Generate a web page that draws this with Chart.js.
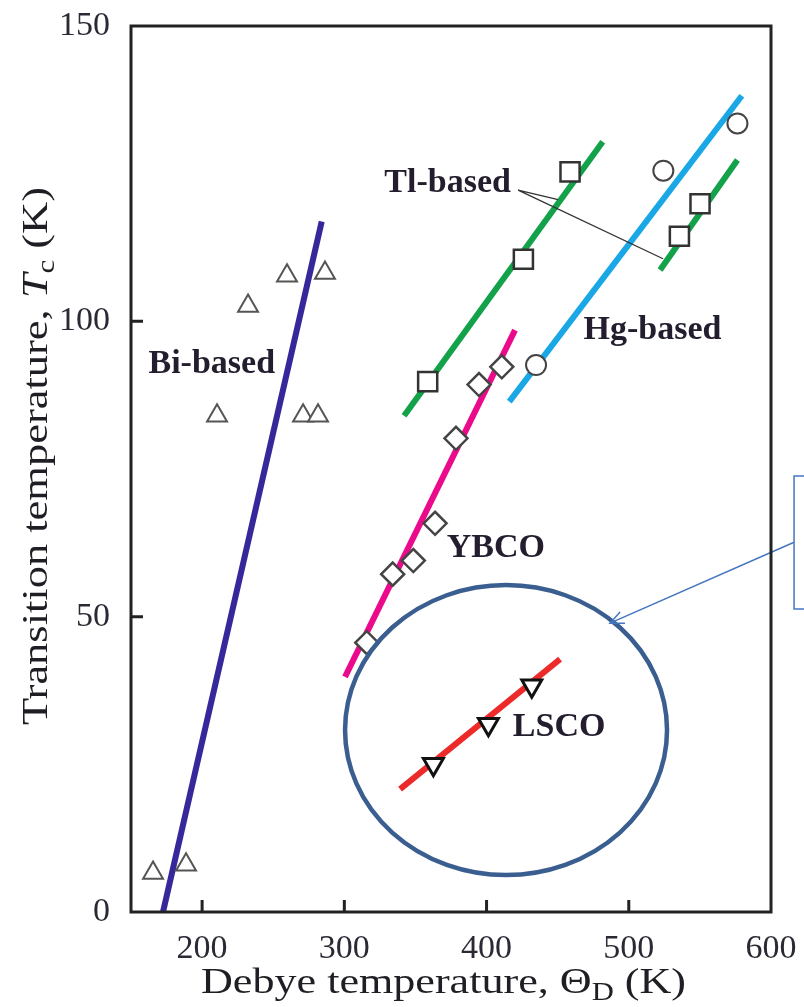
<!DOCTYPE html>
<html>
<head>
<meta charset="utf-8">
<script src="https://cdn.jsdelivr.net/npm/chart.js@4/dist/chart.umd.min.js"></script>
<style>
  html, body { margin: 0; padding: 0; background: #fff; }
  canvas { display: block; }
</style>
</head>
<body>
<canvas id="c" width="804" height="1007"></canvas>
<script>
// Axis ticks
const xTickLabels = [200, 300, 400, 500, 600];
const yTickLabels = [0, 50, 100, 150];
const xTickMarks = [200, 300, 400, 500];
const yTickMarks = [50, 100];

// Debye temperature (K) and Tc (K) per family
const biTheta = [165.5, 188.7, 210.5, 232.3, 259.7, 271.0, 281.5, 286.4];
const biTc    = [6.6, 8.0, 84.0, 102.6, 107.7, 84.0, 84.0, 108.2];

const tlTheta = [358.6, 425.9, 458.7, 535.6, 550.1];
const tlTc    = [89.8, 110.5, 125.3, 114.4, 119.9];

const hgTheta = [434.8, 524.3, 576.4];
const hgTc    = [92.6, 125.5, 133.5];

const ybcoTheta = [315.8, 334.0, 348.5, 363.8, 378.5, 394.7, 410.7];
const ybcoTc    = [45.6, 57.2, 59.5, 65.8, 80.2, 89.3, 92.3];

const lscoTheta = [362.6, 401.3, 431.8];
const lscoTc    = [25.0, 31.8, 38.3];

// Trend lines (end points)
const biFitTheta   = [172.5, 284.1];  const biFitTc   = [0, 116.9];
const tlFitTheta   = [342.0, 481.7];  const tlFitTc   = [84.0, 130.4];
const tl2FitTheta  = [522.0, 576.4];  const tl2FitTc  = [108.7, 127.3];
const hgFitTheta   = [416.0, 579.5];  const hgFitTc   = [86.4, 138.2];
const ybcoFitTheta = [300.5, 420.0];  const ybcoFitTc = [39.8, 98.5];
const lscoFitTheta = [339.2, 451.7];  const lscoFitTc = [20.8, 42.8];

// Family labels
const labelTexts = ['Bi-based', 'Tl-based', 'Hg-based', 'YBCO', 'LSCO'];
const labelTheta = [206.8, 372.6, 516.7, 406.5, 451.0];
const labelTc    = [93.2, 123.9, 98.9, 62.0, 31.8];

const SERIF = '"Liberation Serif", "Times New Roman", serif';
const pts = (xs, ys) => xs.map((x, i) => ({ x: x, y: ys[i] }));

function fitLine(xs, ys, color) {
  return {
    type: 'line', data: pts(xs, ys), borderColor: color, borderWidth: 6,
    borderCapStyle: 'butt', pointRadius: 0, fill: false, order: 2
  };
}
function markers(xs, ys, style, r, stroke, lw, rot) {
  return {
    type: 'scatter', data: pts(xs, ys), pointStyle: style, pointRadius: r,
    pointRotation: rot || 0, pointBackgroundColor: '#ffffff',
    pointBorderColor: stroke, pointBorderWidth: lw, showLine: false, order: 1
  };
}

// Draws a run of text pieces (with optional sub/italic) stretched to a width
function drawRich(ctx, parts, stretch) {
  let x = 0;
  parts.forEach(p => {
    ctx.font = p.font;
    ctx.fillText(p.t, x, p.dy || 0);
    x += ctx.measureText(p.t).width;
  });
}
function richWidth(ctx, parts) {
  let w = 0;
  parts.forEach(p => { ctx.font = p.font; w += ctx.measureText(p.t).width; });
  return w;
}

const decor = {
  id: 'decor',
  afterDraw(chart) {
    const ctx = chart.ctx;
    const a = chart.chartArea;
    const xs = chart.scales.x, ys = chart.scales.y;
    const X = v => xs.getPixelForValue(v), Y = v => ys.getPixelForValue(v);
    ctx.save();

    // Ellipse around LSCO
    const cx = X(413.7), cy = Y(30.8);
    const rx = Math.abs(X(413.7 + 113.2) - cx), ry = Math.abs(Y(30.8 + 24.55) - cy);
    ctx.beginPath();
    ctx.ellipse(cx, cy, rx, ry, 0, 0, Math.PI * 2);
    ctx.strokeStyle = '#3a5e8f';
    ctx.lineWidth = 4.5;
    ctx.stroke();

    // Call-out box and arrow
    const hx = X(486.8), hy = Y(48.9), tx = X(616.2), ty = Y(62.6);
    ctx.strokeStyle = '#4576c0';
    ctx.lineWidth = 1.5;
    ctx.beginPath();
    ctx.moveTo(tx, ty); ctx.lineTo(hx, hy); ctx.stroke();
    const ang = Math.atan2(hy - ty, hx - tx);
    ctx.beginPath();
    ctx.moveTo(hx - 15 * Math.cos(ang - 0.42), hy - 15 * Math.sin(ang - 0.42));
    ctx.lineTo(hx, hy);
    ctx.lineTo(hx - 15 * Math.cos(ang + 0.42), hy - 15 * Math.sin(ang + 0.42));
    ctx.stroke();
    ctx.beginPath();
    ctx.rect(tx, Y(73.8), 60, Y(51.3) - Y(73.8));
    ctx.stroke();

    // Leader lines for Tl-based
    ctx.strokeStyle = '#333';
    ctx.lineWidth = 1.3;
    ctx.beginPath();
    ctx.moveTo(X(422.2), Y(122.2)); ctx.lineTo(X(450.3), Y(120.6));
    ctx.moveTo(X(422.2), Y(122.2)); ctx.lineTo(X(524.1), Y(110.6));
    ctx.stroke();

    // Family labels
    ctx.fillStyle = '#231d2e';
    ctx.font = 'bold 34px ' + SERIF;
    ctx.textAlign = 'center';
    ctx.textBaseline = 'alphabetic';
    labelTexts.forEach((t, i) => ctx.fillText(t, X(labelTheta[i]), Y(labelTc[i]) + 11.5));

    // Frame
    ctx.strokeStyle = '#222';
    ctx.lineWidth = 3;
    ctx.strokeRect(a.left, a.top, a.right - a.left, a.bottom - a.top);

    // Inward ticks
    ctx.beginPath();
    xTickMarks.forEach(v => { ctx.moveTo(X(v), a.bottom); ctx.lineTo(X(v), a.bottom - 12); });
    yTickMarks.forEach(v => { ctx.moveTo(a.left, Y(v)); ctx.lineTo(a.left + 12, Y(v)); });
    ctx.stroke();

    // Axis titles
    ctx.fillStyle = '#1e1e24';
    ctx.textAlign = 'left';
    ctx.textBaseline = 'alphabetic';
    const big = '36px ' + SERIF, small = '25px ' + SERIF, ital = 'italic 36px ' + SERIF;
    const xt = [
      { t: 'Debye temperature, \u0398', font: big },
      { t: 'D', font: small, dy: 7 },
      { t: ' (K)', font: big }
    ];
    const xw = richWidth(ctx, xt);
    ctx.save();
    ctx.translate(201, 993);
    ctx.scale(485 / xw, 1);
    drawRich(ctx, xt);
    ctx.restore();

    const yt = [
      { t: 'Transition temperature, ', font: big },
      { t: 'T', font: ital },
      { t: 'c', font: small, dy: 7 },
      { t: ' (K)', font: big }
    ];
    const yw = richWidth(ctx, yt);
    ctx.save();
    ctx.translate(47, 725);
    ctx.rotate(-Math.PI / 2);
    ctx.scale(538 / yw, 1);
    drawRich(ctx, yt);
    ctx.restore();

    ctx.restore();
  }
};

new Chart(document.getElementById('c'), {
  data: {
    datasets: [
      fitLine(biFitTheta, biFitTc, '#36289b'),
      fitLine(tlFitTheta, tlFitTc, '#13a14a'),
      fitLine(tl2FitTheta, tl2FitTc, '#13a14a'),
      fitLine(hgFitTheta, hgFitTc, '#1aa7e6'),
      fitLine(ybcoFitTheta, ybcoFitTc, '#ec0a8c'),
      fitLine(lscoFitTheta, lscoFitTc, '#ec2a2a'),
      markers(biTheta, biTc, 'triangle', 11.5, '#555', 2),
      markers(tlTheta, tlTc, 'rect', 13.5, '#333', 2.5),
      markers(hgTheta, hgTc, 'circle', 10, '#444', 2),
      markers(ybcoTheta, ybcoTc, 'rectRot', 11.5, '#444', 2.5),
      markers(lscoTheta, lscoTc, 'triangle', 11.5, '#111', 3, 180)
    ]
  },
  options: {
    responsive: false,
    animation: false,
    layout: { padding: { top: 26, right: 33, left: 0, bottom: 0 } },
    plugins: { legend: { display: false }, tooltip: { enabled: false } },
    scales: {
      x: {
        type: 'linear', min: 150, max: 600,
        afterBuildTicks: s => { s.ticks = xTickLabels.map(v => ({ value: v })); },
        afterFit: s => { s.height = 95; s.paddingLeft = 0; s.paddingRight = 0; },
        grid: { display: false }, border: { display: false },
        ticks: { font: { family: SERIF, size: 34 }, color: '#2a2a35', padding: 9, maxRotation: 0, autoSkip: false }
      },
      y: {
        type: 'linear', min: 0, max: 150,
        afterBuildTicks: s => { s.ticks = yTickLabels.map(v => ({ value: v })); },
        afterFit: s => { s.width = 131; s.paddingTop = 0; s.paddingBottom = 0; },
        grid: { display: false }, border: { display: false },
        ticks: { font: { family: SERIF, size: 34 }, color: '#2a2a35', padding: 13, autoSkip: false }
      }
    }
  },
  plugins: [decor]
});
</script>
</body>
</html>
